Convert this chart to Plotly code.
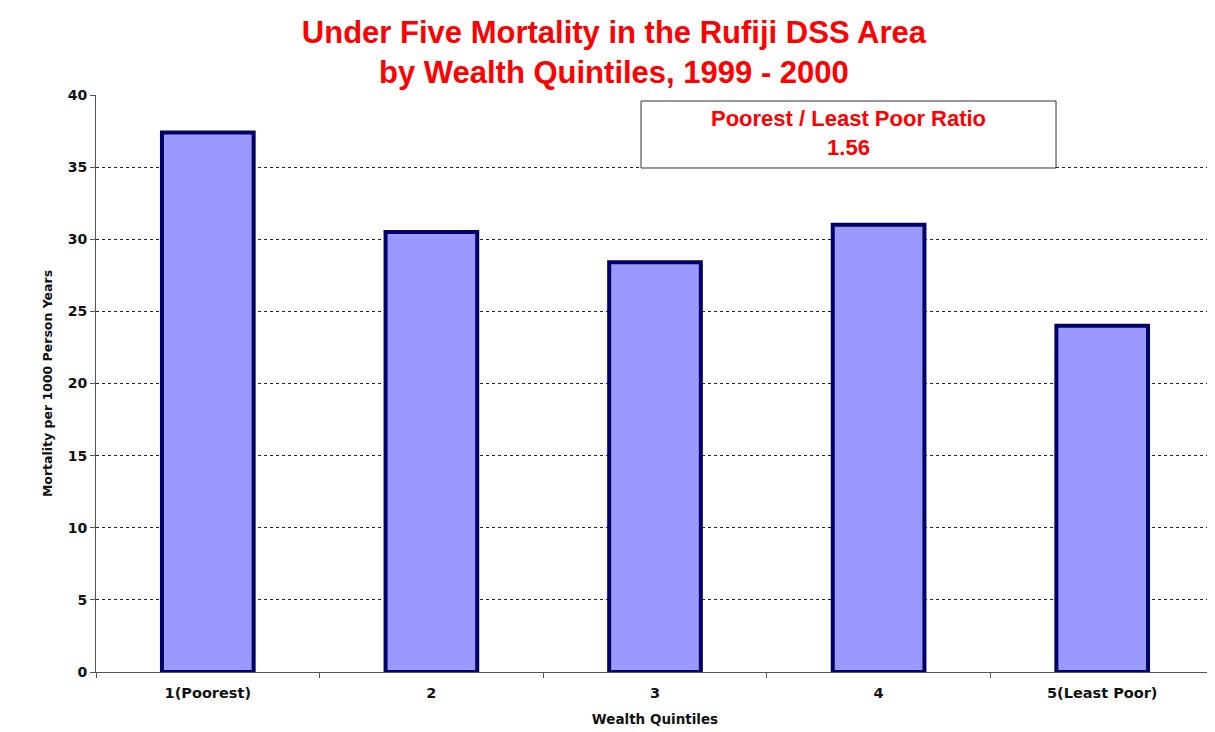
import plotly.graph_objects as go

categories = ["1(Poorest)", "2", "3", "4", "5(Least Poor)"]
mortality = [37.4, 30.5, 28.4, 31.0, 24.0]
y_ticks = [0, 5, 10, 15, 20, 25, 30, 35, 40]
ratio_label = "Poorest / Least Poor Ratio"
ratio_value = "1.56"

fig = go.Figure()
fig.add_trace(go.Bar(
    x=categories, y=mortality, width=0.41,
    marker=dict(color="#9999ff", line=dict(color="#000066", width=4)),
))

fig.update_layout(
    width=1207, height=724,
    margin=dict(l=88, r=1, t=87, b=60),
    paper_bgcolor="white", plot_bgcolor="white",
    showlegend=False,
    title=dict(
        text="<b>Under Five Mortality in the Rufiji DSS Area<br>by Wealth Quintiles, 1999 - 2000</b>",
        x=0.502, xanchor="center", y=0.9516, yanchor="middle",
        font=dict(family="Liberation Sans", size=31, color="#ff0000"),
    ),
    xaxis=dict(
        title=dict(text="<b>Wealth Quintiles</b>", font=dict(family="DejaVu Sans", size=13.5, color="#111111"), standoff=14),
        tickfont=dict(family="DejaVu Sans", size=14.5, color="#111111", weight="bold"),
        automargin=False, ticklabelstandoff=8,
        showline=True, linecolor="#555555", linewidth=1,
        ticks="outside", tickson="boundaries", ticklen=5, tickcolor="#555555",
        showgrid=False,
    ),
    yaxis=dict(
        title=dict(text="<b>Mortality per 1000 Person Years</b>", font=dict(family="DejaVu Sans", size=12.5, color="#111111"), standoff=12),
        range=[0, 40], tickvals=y_ticks, automargin=False,
        tickfont=dict(family="DejaVu Sans", size=14, color="#111111", weight="bold"),
        showline=True, linecolor="#555555", linewidth=1,
        ticks="outside", ticklen=5, tickcolor="#555555",
        showgrid=True, gridcolor="#222222", gridwidth=1, griddash="3px,3px",
        zeroline=False,
    ),
    shapes=[dict(
        type="rect", xref="paper", yref="paper",
        x0=0.4875, x1=0.8587, y0=0.8735, y1=0.9896,
        line=dict(color="#333333", width=1), fillcolor="white", layer="above",
    )],
    annotations=[dict(
        xref="paper", yref="paper", x=0.6731, y=0.9345,
        text="<b>" + ratio_label + "<br>" + ratio_value + "</b>",
        showarrow=False, xanchor="center", yanchor="middle",
        font=dict(family="Liberation Sans", size=22, color="#ff0000"),
    )],
)

fig.write_html("out.html")
